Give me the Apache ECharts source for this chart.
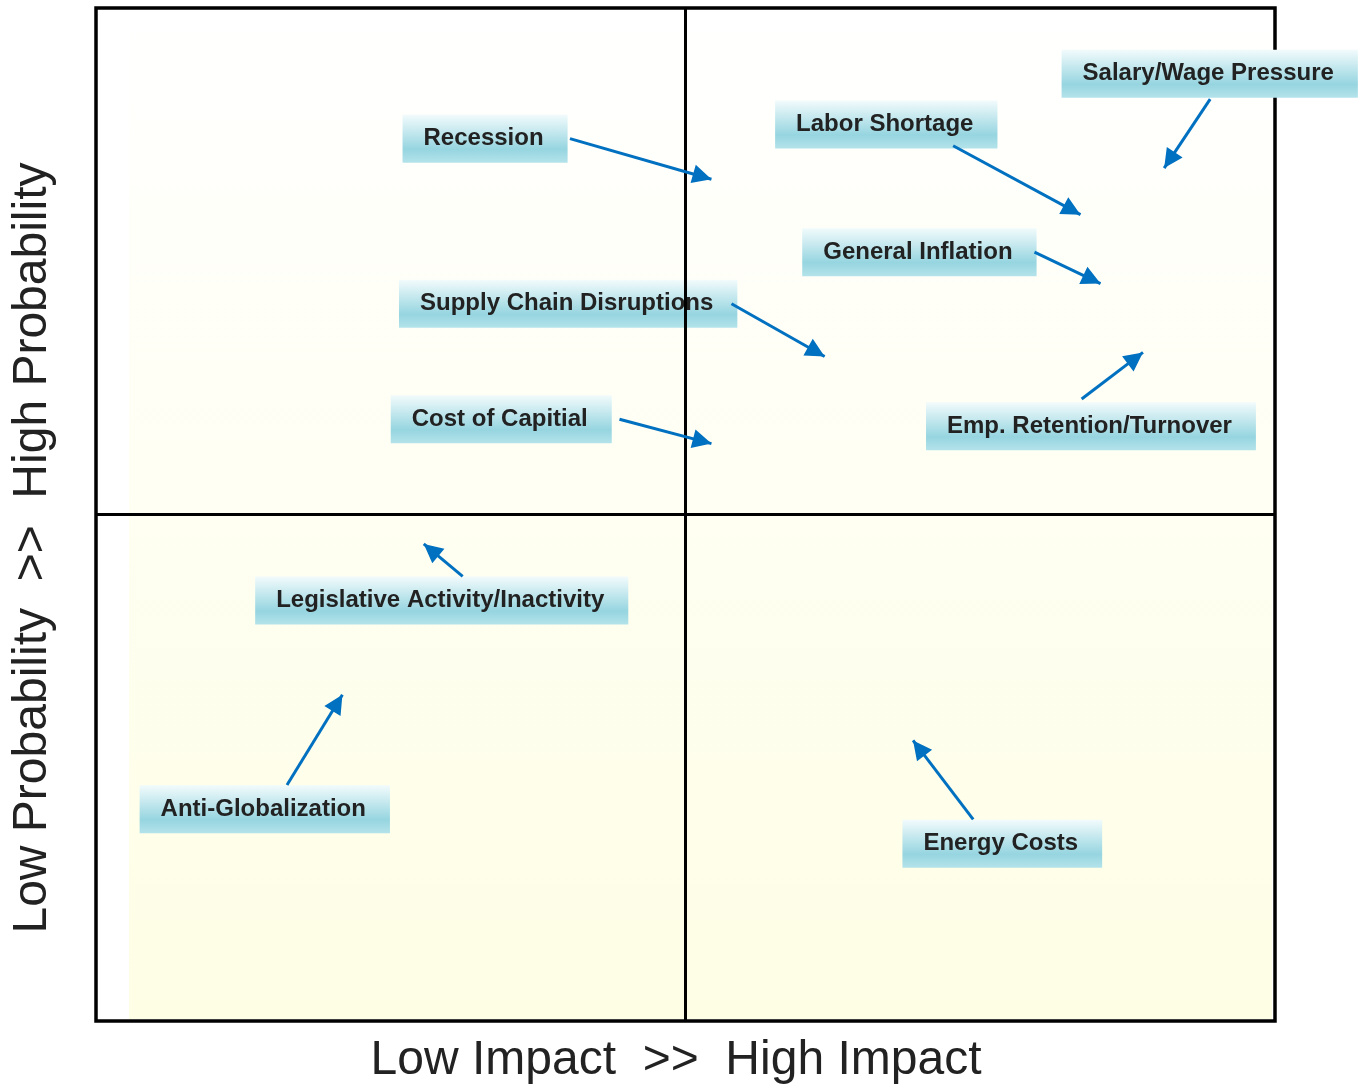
<!DOCTYPE html>
<html>
<head>
<meta charset="utf-8">
<script src="https://cdn.jsdelivr.net/npm/echarts@6/dist/echarts.min.js"></script>
<style>
  html, body { margin: 0; padding: 0; background: #fff; }
  #chart { width: 1364px; height: 1089px; }
</style>
</head>
<body>
<div id="chart"></div>
<script>
// risk names and where their boxes sit (left edge, vertical middle), 0-100 scale
var risks = ['Recession', 'Salary/Wage Pressure', 'Labor Shortage', 'General Inflation',
  'Supply Chain Disruptions', 'Cost of Capitial', 'Emp. Retention/Turnover',
  'Legislative Activity/Inactivity', 'Anti-Globalization', 'Energy Costs'];
var boxX = [26.0, 81.9, 57.6, 59.9, 25.7, 25.0, 70.4, 13.5, 3.7, 68.4];
var boxY = [87.1, 93.5, 88.5, 75.9, 70.8, 59.4, 58.7, 41.5, 20.9, 17.5];
// arrows: from the box to the direction of movement
var arrowFrom = [[40.2, 87.1], [94.5, 91.0], [72.7, 86.4], [79.6, 75.9], [53.9, 70.8],
  [44.4, 59.4], [83.6, 61.4], [31.1, 43.9], [16.2, 23.3], [74.4, 19.9]];
var arrowTo = [[52.2, 83.1], [90.6, 84.2], [83.5, 79.6], [85.2, 72.8], [61.8, 65.6],
  [52.2, 57.0], [88.8, 66.0], [27.8, 47.1], [20.9, 32.2], [69.3, 27.7]];
var xTitle = 'Low Impact  >>  High Impact';
var yTitle = 'Low Probability  >>  High Probability';

var chart = echarts.init(document.getElementById('chart'));

var labelData = [];
for (var i = 0; i < risks.length; i++) {
  labelData.push({ name: risks[i], value: [boxX[i], boxY[i]] });
}
var arrowData = [];
for (var j = 0; j < arrowFrom.length; j++) {
  arrowData.push({ coords: [arrowFrom[j], arrowTo[j]] });
}

var boxFill = new echarts.graphic.LinearGradient(0, 0, 0, 1, [
  { offset: 0, color: '#F2FBFC' },
  { offset: 0.72, color: '#96D5E0' },
  { offset: 1, color: '#B4E3EA' }
]);
var titleFont = 'Liberation Sans, Arial, sans-serif';
// arrow head with its tip in the middle of the symbol box
var arrowHead = 'path://M-16,0L16,0Z M0,16L8,32L-8,32Z';

function renderBox(params, api) {
  var pt = api.coord([api.value(0), api.value(1)]);
  return {
    type: 'text',
    x: pt[0],
    y: pt[1],
    style: {
      text: risks[params.dataIndex],
      font: 'bold 24px ' + titleFont,
      fill: '#222',
      align: 'left',
      verticalAlign: 'middle',
      lineHeight: 48,
      padding: [0, 24, 0, 21],
      backgroundColor: boxFill
    }
  };
}

var option = {
  animation: false,
  grid: {
    left: 96, right: 89, top: 8, bottom: 68,
    show: true, borderColor: '#000', borderWidth: 3.5, backgroundColor: '#fff'
  },
  graphic: [
    {
      type: 'text', x: 676, y: 1061,
      style: { text: xTitle, fill: '#222', font: '48px ' + titleFont, align: 'center', verticalAlign: 'middle' }
    },
    {
      type: 'text', x: 33, y: 548, rotation: Math.PI / 2,
      style: { text: yTitle, fill: '#222', font: '48px ' + titleFont, align: 'center', verticalAlign: 'middle' }
    }
  ],
  xAxis: {
    type: 'value', min: 0, max: 100,
    axisLine: { show: false }, axisTick: { show: false }, axisLabel: { show: false }, splitLine: { show: false }
  },
  yAxis: {
    type: 'value', min: 0, max: 100,
    axisLine: { show: false }, axisTick: { show: false }, axisLabel: { show: false }, splitLine: { show: false }
  },
  series: [
    {
      type: 'custom',
      renderItem: renderBox,
      clip: false,
      z: 10,
      data: labelData,
      encode: { x: 0, y: 1 },
      markArea: {
        silent: true,
        z: 1,
        itemStyle: {
          color: new echarts.graphic.LinearGradient(0, 0, 0, 1, [
            { offset: 0, color: '#FFFFFF' },
            { offset: 1, color: '#FEFEE5' }
          ])
        },
        data: [[{ coord: [2.8, 99.8] }, { coord: [99.75, 0.2] }]]
      },
      markLine: {
        silent: true,
        symbol: 'none',
        z: 11,
        label: { show: false },
        lineStyle: { color: '#000', width: 3, type: 'solid' },
        data: [{ xAxis: 50 }, { yAxis: 50 }]
      }
    },
    {
      type: 'lines',
      coordinateSystem: 'cartesian2d',
      z: 12,
      symbol: ['none', arrowHead],
      symbolSize: 38,
      lineStyle: { color: '#0070C0', width: 3, opacity: 1, curveness: 0 },
      data: arrowData
    }
  ]
};
chart.setOption(option);
</script>
</body>
</html>
